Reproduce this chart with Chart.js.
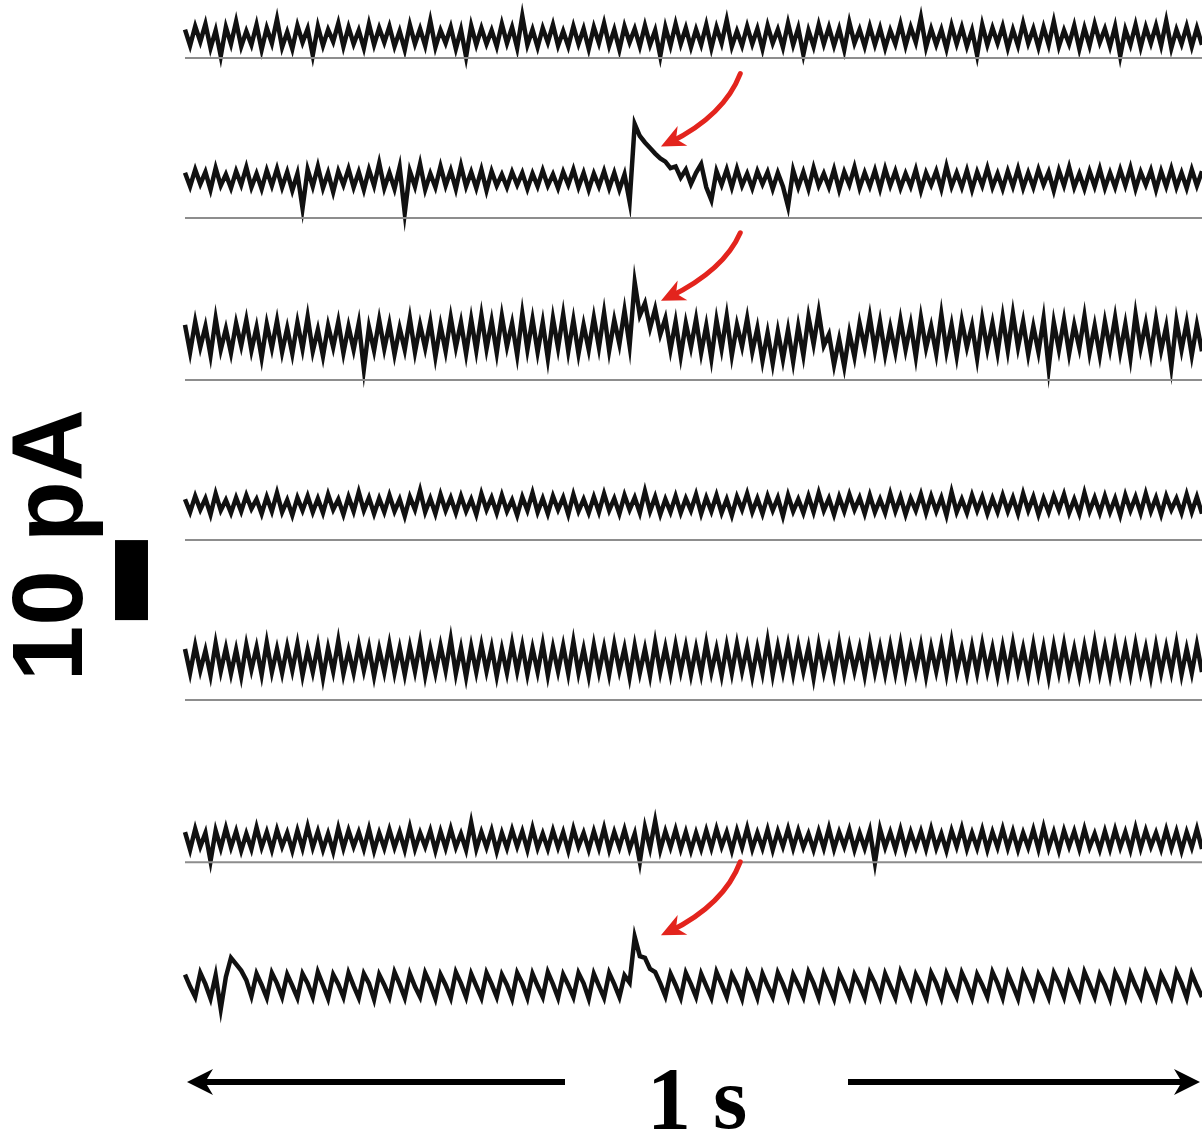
<!DOCTYPE html>
<html>
<head>
<meta charset="utf-8">
<script src="https://cdn.jsdelivr.net/npm/chart.js@4.4.1/dist/chart.umd.min.js"></script>
<style>
  body { margin: 0; background: #fff; }
  canvas { display: block; }
</style>
</head>
<body>
<canvas id="traces" width="1202" height="1133"></canvas>
<script>
// current traces, pA relative to each trace's resting level, 200 samples over 1 s
var trace1 = [
  0.9,-1.1,1.3,-0.6,1.6,-1.4,0.8,-2.4,1.2,-0.9,1.9,-1.2,0.7,-1.0,1.5,-1.6,1.1,-0.8,2.2,-1.3,
  0.6,-1.5,1.4,-0.7,1.0,-2.3,1.3,-1.1,0.9,-0.6,1.7,-1.2,1.2,-0.9,0.8,-1.4,1.6,-1.0,1.1,-0.7,
  1.3,-1.2,0.7,-1.6,1.5,-0.9,1.0,-1.1,2.0,-1.3,0.8,-0.8,1.2,-1.5,0.9,-2.5,1.4,-1.0,1.1,-0.9,
  0.8,-1.2,1.6,-0.8,1.2,-1.4,2.6,-1.0,0.9,-1.3,1.1,-0.7,1.5,-1.1,0.7,-1.2,1.3,-0.9,1.0,-1.5,
  1.2,-0.8,1.7,-1.1,0.9,-1.6,1.3,-0.7,1.0,-1.2,1.4,-1.0,0.8,-2.4,1.2,-1.1,1.6,-0.9,1.1,-1.3,
  0.9,-1.0,1.5,-1.4,1.2,-0.8,2.1,-1.2,0.7,-1.1,1.3,-0.9,1.0,-1.5,1.4,-0.8,0.9,-1.3,1.7,-1.0,
  1.1,-2.2,0.8,-1.2,1.5,-0.9,1.2,-1.1,1.0,-1.6,1.8,-0.8,0.9,-1.2,1.3,-1.0,1.1,-1.4,0.8,-0.9,
  1.6,-1.1,1.2,-0.7,2.4,-1.3,1.0,-1.0,0.9,-1.5,1.4,-0.9,1.2,-1.2,0.8,-2.3,1.5,-1.0,1.1,-0.8,
  1.3,-1.4,0.9,-1.1,1.7,-0.8,1.0,-1.3,1.2,-1.0,1.9,-1.2,0.8,-0.9,1.4,-1.5,1.1,-1.1,1.6,-0.7,
  1.0,-1.2,1.3,-2.4,0.9,-1.0,1.5,-1.3,1.2,-0.8,1.4,-1.1,2.0,-1.4,0.9,-0.9,1.3,-1.2,1.1,-1.0
];
var trace2 = [
  0.8,-0.9,1.2,-0.6,0.9,-1.3,1.4,-0.8,0.6,-1.1,1.0,-0.7,1.5,-1.0,0.7,-1.2,1.1,-0.8,1.3,-1.0,
  0.9,-1.4,0.7,-3.6,1.2,-0.9,1.6,-1.1,0.8,-1.6,1.0,-0.7,1.3,-1.0,0.9,-1.3,1.2,-0.8,2.0,-1.1,
  0.8,-1.2,1.5,-4.2,1.0,-0.9,1.9,-1.3,0.7,-1.0,1.6,-0.8,1.1,-1.2,1.7,-0.9,0.9,-1.1,1.2,-1.4,
  1.0,-0.8,0.6,-1.0,0.9,-0.7,0.8,-1.2,0.7,-0.9,1.1,-0.8,0.6,-1.1,0.9,-0.7,1.2,-1.0,0.8,-1.3,
  0.7,-0.9,1.0,-1.1,0.8,-1.3,0.6,-2.8,6.9,5.4,4.6,3.9,3.2,2.6,2.2,1.4,1.6,0.2,1.2,-0.6,
  0.8,1.9,-1.0,-2.6,1.0,-0.7,1.2,-1.0,1.3,-0.8,0.7,-1.1,1.0,-0.6,0.9,-1.2,0.8,-0.9,-3.4,1.1,
  -1.0,0.9,-1.2,1.4,-0.8,0.7,-1.0,1.2,-1.3,0.9,-0.7,1.5,-1.1,0.8,-0.9,1.1,-1.2,1.3,-0.8,1.0,
  -1.1,0.7,-0.9,1.2,-1.4,0.8,-0.7,1.0,-1.2,1.6,-0.9,0.8,-1.0,1.1,-1.3,0.9,-0.8,1.4,-1.0,0.7,
  -1.2,1.0,-0.9,1.3,-1.1,0.8,-1.0,1.2,-0.7,0.9,-1.4,1.1,-0.8,1.5,-1.0,0.7,-1.2,1.0,-0.9,1.3,
  -1.1,0.8,-1.0,1.2,-0.8,1.4,-1.2,0.9,-0.7,1.1,-1.3,1.0,-0.9,1.3,-1.0,0.8,-1.1,1.2,-0.8,1.0
];
var trace3 = [
  1.6,-1.8,2.0,-1.2,1.4,-2.2,2.4,-1.5,1.1,-1.9,1.8,-1.0,2.2,-1.6,1.3,-2.5,1.7,-1.3,2.1,-1.8,
  1.2,-2.0,1.9,-1.4,2.6,-1.7,1.0,-2.3,1.5,-1.2,2.0,-1.9,1.4,-1.5,1.8,-3.9,1.3,-1.6,2.2,-1.4,
  1.7,-2.1,1.2,-1.5,2.4,-1.8,1.6,-1.3,2.0,-2.4,1.5,-1.7,2.5,-1.2,1.9,-2.0,2.3,-1.6,2.8,-1.4,
  2.1,-1.9,2.7,-1.1,1.8,-2.2,3.0,-1.5,2.3,-1.8,1.9,-2.6,2.4,-1.3,2.9,-1.7,2.2,-2.0,1.6,-1.5,
  2.5,-1.2,3.1,-1.6,2.2,-0.8,3.4,-1.0,6.9,2.8,4.3,1.2,3.6,0.4,2.4,-1.5,2.0,-2.3,1.8,-1.2,
  2.3,-1.9,1.5,-2.6,2.2,-1.4,2.7,-2.2,1.6,-1.1,2.4,-1.8,1.2,-2.9,0.6,-3.2,0.8,-2.7,1.0,-3.0,
  1.4,-2.2,2.6,-0.8,3.2,-1.0,0.4,-3.4,-0.2,-3.6,0.6,-2.4,1.8,-1.2,2.6,-1.6,2.0,-2.1,1.3,-1.8,
  2.2,-1.5,1.7,-2.4,2.5,-1.3,1.4,-2.0,2.9,-1.7,1.6,-2.3,2.1,-1.2,1.5,-2.6,2.3,-1.4,1.8,-1.9,
  2.6,-1.6,3.0,-1.2,2.0,-2.1,1.4,-1.8,2.4,-3.8,1.9,-1.5,2.2,-2.0,1.6,-1.3,2.7,-1.9,1.5,-2.2,
  2.0,-1.4,2.5,-1.8,1.7,-2.5,2.9,-1.3,1.8,-2.0,2.3,-1.6,1.4,-3.6,2.1,-1.5,1.9,-2.2,1.6,-1.7
];
var trace4 = [
  0.7,-0.9,1.1,-0.6,0.8,-1.2,1.4,-0.7,0.6,-1.0,0.9,-0.8,1.2,-0.5,0.7,-1.1,1.0,-0.8,1.5,-0.9,
  0.6,-1.3,0.9,-0.7,1.1,-0.9,0.8,-1.0,1.3,-0.6,0.7,-1.2,1.0,-0.8,1.6,-0.7,0.9,-1.1,0.8,-0.9,
  1.2,-0.8,0.7,-1.4,1.0,-0.6,1.8,-0.9,0.8,-1.1,1.3,-0.7,0.9,-1.0,1.1,-0.8,0.7,-1.2,1.4,-0.6,
  0.9,-1.0,1.2,-0.8,0.6,-1.3,1.0,-0.7,1.5,-0.9,0.8,-1.1,1.1,-0.6,0.9,-1.2,1.3,-0.8,0.7,-1.0,
  1.0,-0.9,1.4,-0.7,0.8,-1.1,1.2,-0.6,0.9,-1.0,1.7,-0.8,1.0,-1.2,0.7,-0.9,1.1,-1.0,0.8,-0.7,
  1.3,-1.1,0.9,-0.8,1.2,-1.0,0.7,-1.3,1.0,-0.6,1.4,-0.9,0.8,-1.1,1.1,-0.7,0.9,-1.4,1.2,-0.8,
  0.7,-1.0,1.1,-0.9,1.5,-0.7,0.8,-1.2,1.0,-0.8,1.3,-0.6,0.9,-1.1,1.2,-0.9,0.7,-1.0,1.4,-0.8,
  1.0,-1.2,0.8,-0.7,1.3,-1.0,1.1,-0.8,0.9,-1.3,1.6,-0.9,0.7,-1.0,1.2,-0.7,1.0,-1.1,0.8,-0.9,
  1.2,-0.8,0.9,-1.1,1.4,-0.7,1.0,-1.2,0.8,-0.9,1.1,-0.6,1.3,-1.0,0.7,-1.1,1.5,-0.8,0.9,-1.0,
  1.1,-0.9,0.8,-1.3,1.2,-0.7,1.0,-1.0,1.4,-0.8,0.9,-1.2,1.1,-0.6,0.8,-1.0,1.3,-0.9,1.0,-1.1
];
var trace5 = [
  1.4,-1.6,1.8,-1.3,1.2,-1.9,2.1,-1.4,1.5,-1.7,1.3,-2.0,1.9,-1.2,1.6,-1.8,2.2,-1.5,1.4,-1.6,
  1.7,-1.3,2.0,-1.9,1.3,-1.5,1.8,-2.2,1.5,-1.4,2.4,-1.7,1.2,-1.6,1.9,-1.3,1.6,-2.0,1.4,-1.5,
  2.0,-1.6,1.5,-1.8,1.7,-1.4,2.2,-1.9,1.4,-1.6,1.8,-1.3,2.6,-1.7,1.5,-2.1,1.7,-1.5,1.9,-1.4,
  1.6,-2.0,1.4,-1.6,2.1,-1.4,1.8,-1.8,1.5,-1.5,2.0,-1.9,1.6,-1.4,1.8,-1.7,2.3,-1.6,1.4,-2.0,
  1.9,-1.5,1.6,-1.8,2.0,-1.3,1.5,-2.1,1.8,-1.6,1.4,-1.9,2.2,-1.5,1.6,-1.7,1.9,-1.4,1.7,-1.8,
  1.5,-1.7,2.1,-1.5,1.4,-1.9,1.8,-1.6,2.0,-1.4,1.6,-2.0,1.5,-1.6,2.4,-1.8,1.7,-1.5,1.9,-1.7,
  1.8,-1.4,1.6,-2.2,1.9,-1.5,1.4,-1.8,2.1,-1.6,1.7,-1.4,1.5,-1.9,2.0,-1.5,1.6,-1.7,1.8,-1.6,
  2.0,-1.8,1.5,-1.5,1.8,-2.0,1.6,-1.4,1.9,-1.7,2.3,-1.5,1.4,-1.8,1.7,-1.6,2.0,-1.4,1.5,-1.9,
  1.7,-1.6,2.1,-1.4,1.5,-1.8,1.9,-1.7,1.6,-2.1,1.8,-1.5,2.0,-1.6,1.4,-1.9,1.7,-1.5,2.2,-1.6,
  1.6,-1.8,1.9,-1.5,1.7,-1.7,2.0,-1.4,1.5,-2.0,1.8,-1.6,1.6,-1.5,2.1,-1.8,1.4,-1.6,1.9,-1.5
];
var trace6 = [
  1.0,-1.2,1.4,-0.8,0.9,-2.6,1.2,-1.0,1.5,-0.9,1.1,-1.3,0.8,-1.1,1.6,-0.9,1.0,-1.2,1.3,-0.8,
  0.9,-1.3,1.2,-1.0,1.7,-0.9,1.1,-1.2,0.8,-1.4,1.5,-1.0,1.2,-0.8,1.0,-1.1,1.4,-1.3,0.9,-1.0,
  1.3,-0.9,1.0,-1.2,1.6,-1.1,0.9,-0.8,1.2,-1.3,1.1,-1.0,1.4,-0.9,0.8,-1.2,2.2,-1.1,1.0,-0.9,
  1.2,-1.4,0.9,-1.0,1.3,-0.8,1.1,-1.2,1.5,-1.0,0.8,-1.1,1.2,-0.9,1.0,-1.3,1.4,-0.8,0.9,-1.2,
  1.1,-1.0,1.5,-1.2,1.0,-0.9,1.3,-1.1,0.8,-2.7,1.6,-1.0,2.4,-1.2,1.1,-0.9,1.3,-1.1,1.0,-1.3,
  0.9,-1.1,1.2,-1.0,1.4,-0.8,1.0,-1.3,1.2,-0.9,1.5,-1.1,0.9,-1.0,1.3,-1.2,1.1,-0.8,1.4,-1.0,
  1.2,-0.9,0.8,-1.2,1.1,-1.0,1.5,-1.1,1.0,-0.8,1.3,-1.2,0.9,-1.0,1.2,-2.8,1.4,-0.9,1.0,-1.1,
  1.3,-1.2,1.0,-0.9,1.1,-1.1,1.4,-1.0,0.8,-1.3,1.2,-0.8,1.5,-1.1,0.9,-1.0,1.3,-1.2,1.0,-0.9,
  1.4,-1.0,1.1,-1.2,0.9,-0.9,1.3,-1.1,1.6,-1.0,1.0,-1.3,1.2,-0.8,1.1,-1.1,1.4,-0.9,0.8,-1.2,
  1.1,-1.1,1.3,-0.9,1.0,-1.2,1.5,-1.0,1.2,-0.8,0.9,-1.1,1.3,-1.0,1.1,-1.3,1.0,-0.9,1.4,-1.1
];
var trace7 = [
  1.3,-0.2,-1.5,1.5,0.1,-1.7,1.2,-3.0,1.0,3.4,2.6,1.8,0.6,-1.4,1.4,0.0,-1.6,1.5,0.2,-1.5,
  1.3,-0.1,-1.6,1.4,0.2,-1.5,1.6,0.0,-1.7,1.3,0.1,-1.5,1.5,-0.1,-1.6,1.4,0.2,-1.8,1.3,0.0,
  -1.5,1.6,0.1,-1.6,1.4,-0.2,-1.5,1.5,0.1,-1.7,1.3,0.0,-1.6,1.6,0.2,-1.5,1.4,-0.1,-1.6,1.5,
  0.1,-1.5,1.3,0.0,-1.7,1.5,0.2,-1.6,1.4,-0.1,-1.5,1.6,0.1,-1.6,1.3,0.0,-1.5,1.5,0.2,-1.7,
  1.4,-0.1,-1.6,1.5,0.1,-1.5,1.2,0.3,6.0,3.6,3.4,2.0,1.6,0.2,-1.4,1.4,0.0,-1.6,1.5,0.1,
  -1.5,1.4,-0.1,-1.6,1.6,0.1,-1.5,1.3,0.0,-1.7,1.5,0.2,-1.6,1.4,-0.1,-1.5,1.5,0.1,-1.6,1.3,
  0.0,-1.5,1.6,0.2,-1.6,1.4,-0.1,-1.7,1.5,0.1,-1.5,1.3,0.0,-1.6,1.5,0.2,-1.5,1.4,-0.1,-1.6,
  1.6,0.1,-1.5,1.3,0.0,-1.7,1.5,0.2,-1.6,1.4,-0.1,-1.5,1.5,0.1,-1.6,1.3,0.0,-1.5,1.6,0.2,
  -1.6,1.4,-0.1,-1.7,1.5,0.1,-1.5,1.3,0.0,-1.6,1.5,0.2,-1.5,1.4,-0.1,-1.6,1.6,0.1,-1.5,1.3,
  0.0,-1.7,1.5,0.2,-1.6,1.4,-0.1,-1.5,1.5,0.1,-1.6,1.3,0.0,-1.5,1.6,0.2,-1.6,1.4,-0.1,-1.5
];

// time of the evoked event (s) and which traces show it (arrowed)
var eventTime = 0.442;
var arrowedTraces = [1, 2, 6];
var arrowTail = [13.2, 13.1, 15.4];  // pA above resting level
var arrowTip = [4.1, 4.6, 6.2];

// scale bar and time bar
var scaleBarPA = 10;
var timeBarLabel = "1 s";
var scaleBarLabel = "10 pA";

// layout (pA from the top of the panel)
var traceLevels = [-4.6, -22.4, -42.2, -63.1, -82.5, -105, -123.1];
var baselineLevels = [-7.25, -27.25, -47.5, -67.5, -87.5, -107.75];

var traces = [trace1, trace2, trace3, trace4, trace5, trace6, trace7];
var datasets = [];

baselineLevels.forEach(function(lv) {
  datasets.push({
    data: [{x: 0, y: lv}, {x: 1, y: lv}],
    borderColor: "#8d8d8d",
    borderWidth: 2
  });
});

traces.forEach(function(vals, k) {
  datasets.push({
    data: vals.map(function(v, i) { return {x: i / (vals.length - 1), y: traceLevels[k] + v}; }),
    borderColor: "#111",
    borderWidth: 4.5
  });
});

function arrowHead(ctx, x, y, ang, len, half) {
  ctx.beginPath();
  ctx.moveTo(x, y);
  ctx.lineTo(x - len * Math.cos(ang) + half * Math.sin(ang), y - len * Math.sin(ang) - half * Math.cos(ang));
  ctx.lineTo(x - len * 0.7 * Math.cos(ang), y - len * 0.7 * Math.sin(ang));
  ctx.lineTo(x - len * Math.cos(ang) - half * Math.sin(ang), y - len * Math.sin(ang) + half * Math.cos(ang));
  ctx.closePath();
  ctx.fill();
}

var decorations = {
  id: "decorations",
  afterDatasetsDraw: function(chart) {
    var ctx = chart.ctx;
    var xs = chart.scales.x, ys = chart.scales.y;
    ctx.save();

    // red arrows pointing at the events
    ctx.strokeStyle = "#e3241d";
    ctx.fillStyle = "#e3241d";
    ctx.lineWidth = 5;
    ctx.lineCap = "round";
    arrowedTraces.forEach(function(k, j) {
      var x0 = xs.getPixelForValue(eventTime + 0.104);
      var y0 = ys.getPixelForValue(traceLevels[k] + arrowTail[j]);
      var x1 = xs.getPixelForValue(eventTime + 0.026);
      var y1 = ys.getPixelForValue(traceLevels[k] + arrowTip[j]);
      var cx = x0 - 16, cy = y1 - 31;
      ctx.beginPath();
      ctx.moveTo(x0, y0);
      ctx.quadraticCurveTo(cx, cy, x1 + 9, y1 - 4);
      ctx.stroke();
      arrowHead(ctx, x1, y1, Math.atan2(y1 - cy, x1 - cx), 24, 11);
    });

    // 10 pA scale bar
    ctx.fillStyle = "#000";
    var barBottom = ys.getPixelForValue(-77.5);
    var barTop = ys.getPixelForValue(-77.5 + scaleBarPA);
    var bx0 = xs.getPixelForValue(-0.0688), bx1 = xs.getPixelForValue(-0.0364);
    ctx.fillRect(bx0, barTop, bx1 - bx0, barBottom - barTop);

    ctx.save();
    ctx.translate(82, barTop + 5);
    ctx.rotate(-Math.PI / 2);
    ctx.font = "bold 100px 'Liberation Sans', Arial, sans-serif";
    ctx.textAlign = "center";
    ctx.textBaseline = "alphabetic";
    ctx.fillText(scaleBarLabel, 0, 0);
    ctx.restore();

    // 1 s time bar with arrows
    var tx0 = xs.getPixelForValue(0), tx1 = xs.getPixelForValue(1);
    var ty = 1082;
    ctx.strokeStyle = "#000";
    ctx.lineWidth = 6;
    ctx.lineCap = "butt";
    ctx.beginPath();
    ctx.moveTo(tx0 + 10, ty); ctx.lineTo(565, ty);
    ctx.moveTo(848, ty); ctx.lineTo(tx1 - 10, ty);
    ctx.stroke();
    arrowHead(ctx, tx0 + 2, ty, Math.PI, 26, 13);
    arrowHead(ctx, tx1 - 2, ty, 0, 26, 13);

    ctx.font = "bold 88px 'Liberation Serif', 'Times New Roman', serif";
    ctx.textAlign = "center";
    ctx.fillText(timeBarLabel, 697, 1128);
    ctx.restore();
  }
};

new Chart("traces", {
  type: "line",
  data: { datasets: datasets },
  options: {
    responsive: false,
    animation: false,
    layout: { padding: 0 },
    elements: { point: { radius: 0 }, line: { tension: 0 } },
    plugins: { legend: { display: false }, tooltip: { enabled: false } },
    scales: {
      x: { type: "linear", display: false, min: -0.1819, max: 1 },
      y: { display: false, min: -141.6, max: 0 }
    }
  },
  plugins: [decorations]
});
</script>
</body>
</html>
